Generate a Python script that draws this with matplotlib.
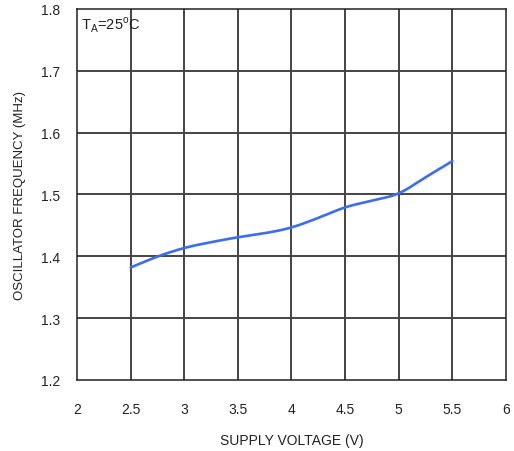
import numpy as np
import matplotlib.pyplot as plt

plt.rcParams['font.family'] = ['Liberation Sans', 'DejaVu Sans']

# oscillator frequency vs supply voltage
voltage = [2.5, 2.75, 3.0, 3.25, 3.5, 3.75, 4.0, 4.25, 4.5, 4.75, 5.0, 5.25, 5.5]
freq_mhz = [1.382, 1.400, 1.414, 1.423, 1.431, 1.437, 1.446, 1.462, 1.480, 1.490, 1.500, 1.528, 1.554]

x_ticks = [2, 2.5, 3, 3.5, 4, 4.5, 5, 5.5, 6]
x_labels = ['2', '2.5', '3', '3.5', '4', '4.5', '5', '5.5', '6']
y_ticks = [1.2, 1.3, 1.4, 1.5, 1.6, 1.7, 1.8]
y_labels = ['1.2', '1.3', '1.4', '1.5', '1.6', '1.7', '1.8']

fig = plt.figure(figsize=(5.14, 4.52), dpi=100)
ax = fig.add_axes([0.1498, 0.1571, 0.8346, 0.8208])

# smooth the curve a little between the read points
xs = np.linspace(voltage[0], voltage[-1], 200)
ys = np.interp(xs, voltage, freq_mhz)
k = 7
padded = np.pad(ys, k, mode='reflect', reflect_type='odd')
ys_s = np.convolve(padded, np.ones(2 * k + 1) / (2 * k + 1), mode='same')[k:-k]
ax.plot(xs, ys_s, color='#3b6df2', lw=1.9, solid_capstyle='round', zorder=3)

ax.set_xlim(2, 6)
ax.set_ylim(1.2, 1.8)
ax.set_xticks(x_ticks)
ax.set_xticklabels(x_labels)
ax.set_yticks(y_ticks)
ax.set_yticklabels(y_labels)
ax.tick_params(length=0, labelsize=10, pad=12, colors='#222222')
ax.tick_params(axis='x', pad=16)

for x in x_ticks[1:-1]:
    ax.axvline(x, color='#111111', lw=1.1, zorder=1)
for y in y_ticks[1:-1]:
    ax.axhline(y, color='#444444', lw=1.4, zorder=1)
for s in ax.spines.values():
    s.set_color('#222222')
    s.set_linewidth(1.1)

ax.set_xlabel('SUPPLY VOLTAGE (V)', fontsize=10, labelpad=12, color='#222222')
ax.set_ylabel('OSCILLATOR FREQUENCY (MHz)', fontsize=9.5, labelpad=11, color='#222222')
ax.text(2.04, 1.775, r'T$_\mathregular{A}$=25$^\mathregular{o}$C', fontsize=10.5,
        va='center', ha='left', color='#222222')

fig.savefig('out.png', dpi=100)
